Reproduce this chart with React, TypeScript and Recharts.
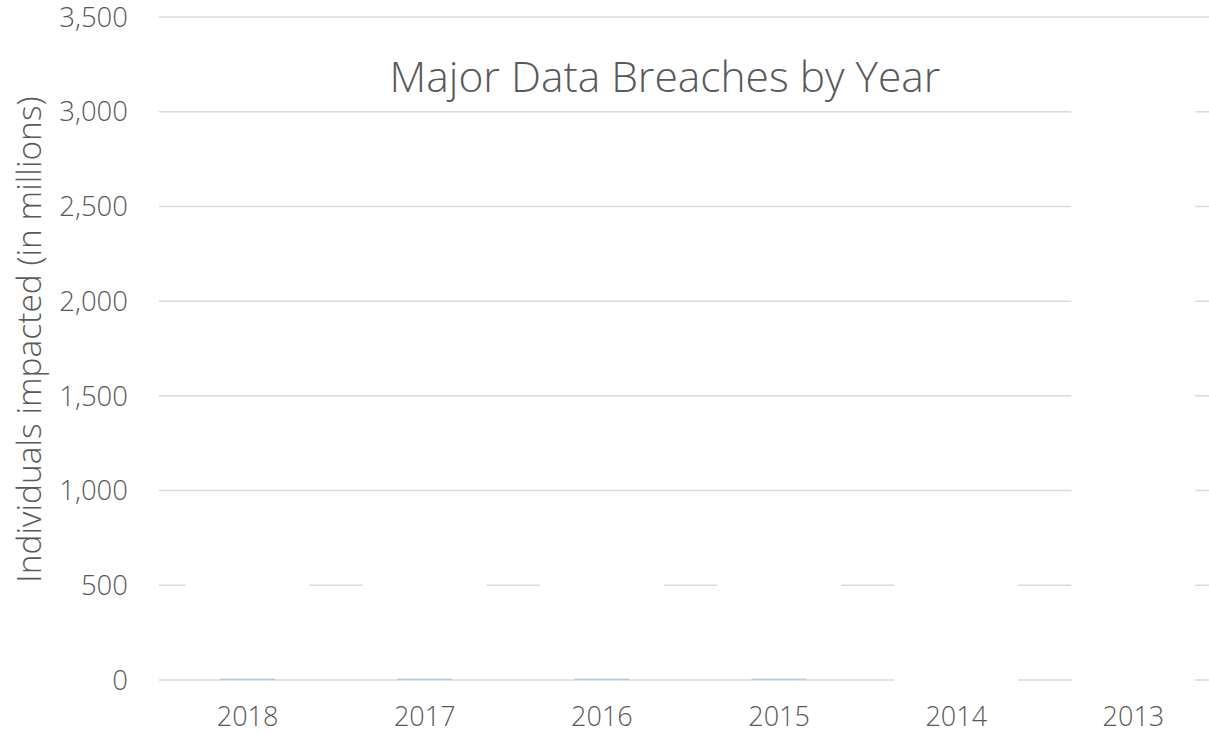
import React from 'react';
import { BarChart, Bar, XAxis, YAxis, CartesianGrid, Cell } from 'recharts';

const years = ['2018', '2017', '2016', '2015', '2014', '2013'];
// light-blue series sitting on the baseline (individuals impacted, millions)
const recordedImpact = [8, 8, 8, 8, 0, 0];
// white (blank) picture columns: lower and upper edge, millions
const pictureLow = [15, 15, 15, 15, 0, 0];
const pictureHigh = [720, 720, 720, 720, 800, 3150];
const yTicks = [0, 500, 1000, 1500, 2000, 2500, 3000, 3500];

const data = years.map((year, i) => ({
  year,
  recorded: recordedImpact[i],
  picture: [pictureLow[i], pictureHigh[i]],
}));

const FONT = '"Open Sans", "Segoe UI", sans-serif';
const GREY = '#595959';

const fmt = (v: number) => v.toLocaleString('en-US');

export default function App() {
  return (
    <div
      style={{
        position: 'fixed',
        left: 0,
        top: 0,
        width: 1209,
        height: 734,
        overflow: 'hidden',
        background: '#ffffff',
        fontFamily: FONT,
      }}
    >
      <BarChart
        width={1222}
        height={734}
        data={data}
        margin={{ top: 17, right: 0, bottom: 0, left: 0 }}
        barGap={0}
        barCategoryGap={0}
      >
        <CartesianGrid vertical={false} stroke="#d9d9d9" strokeWidth={1.5} />
        <XAxis
          xAxisId="a"
          dataKey="year"
          axisLine={false}
          tickLine={false}
          tickSize={0}
          tickMargin={27}
          height={54}
          interval={0}
          tick={{ fill: GREY, fontSize: 27, fontFamily: FONT, fontWeight: 300 }}
        />
        <XAxis xAxisId="b" dataKey="year" hide />
        <YAxis
          domain={[0, 3500]}
          ticks={yTicks}
          interval={0}
          width={159}
          axisLine={false}
          tickLine={false}
          tickSize={0}
          tickMargin={31}
          tickFormatter={fmt}
          tick={{ fill: GREY, fontSize: 27.5, fontFamily: FONT, fontWeight: 300 }}
          label={{
            content: (props: any) => {
              const vb = props.viewBox || { y: 17, height: 663 };
              const cy = vb.y + vb.height / 2 - 9;
              return (
                <text
                  x={41}
                  y={cy}
                  transform={`rotate(-90, 41, ${cy})`}
                  textAnchor="middle"
                  fill={GREY}
                  fontSize={33.5}
                  fontFamily={FONT}
                  fontWeight={300}
                >
                  Individuals impacted (in millions)
                </text>
              );
            },
          }}
        />
        <Bar
          xAxisId="a"
          dataKey="picture"
          barSize={121}
          fill="#ffffff"
          isAnimationActive={false}
        >
          {data.map((d) => (
            <Cell key={d.year} fill="#ffffff" stroke="#ffffff" strokeWidth={3} />
          ))}
        </Bar>
        <Bar
          xAxisId="b"
          dataKey="recorded"
          barSize={55}
          fill="#b9cde0"
          isAnimationActive={false}
        />
      </BarChart>
      <div
        style={{
          position: 'absolute',
          left: 315,
          width: 700,
          top: 46,
          textAlign: 'center',
          fontSize: 42.5,
          lineHeight: '60px',
          color: GREY,
          fontFamily: FONT,
          fontWeight: 300,
          whiteSpace: 'nowrap',
        }}
      >
        Major Data Breaches by Year
      </div>
    </div>
  );
}
